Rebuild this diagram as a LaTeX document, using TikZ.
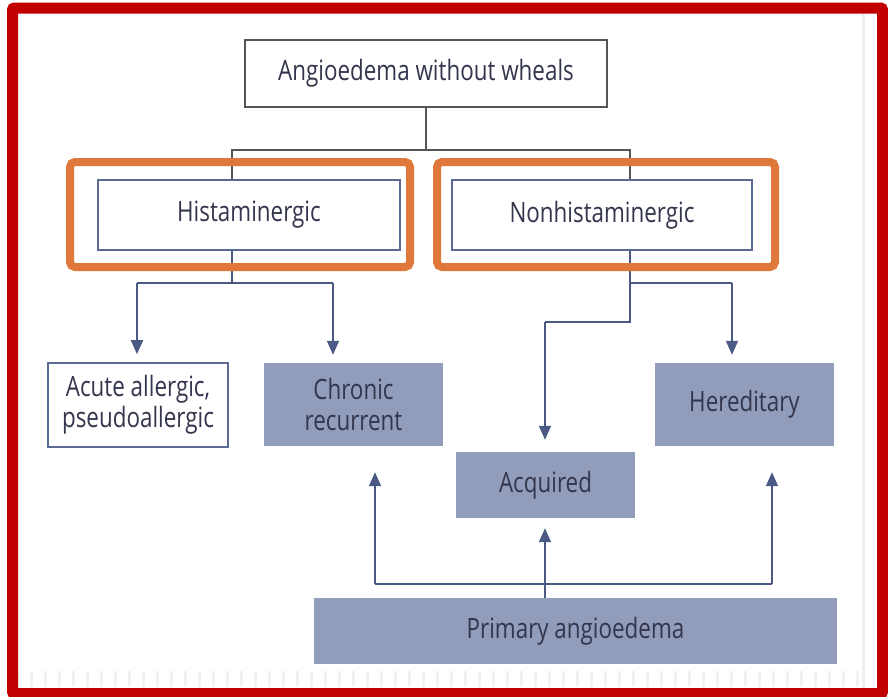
\documentclass[tikz,border=0pt]{standalone}
\usepackage{fontspec}
\setmainfont[FakeStretch=0.8]{Open Sans}
\usetikzlibrary{arrows.meta}
\definecolor{txt}{HTML}{33364D}
\definecolor{boxfill}{HTML}{919DBB}
\definecolor{boxline}{HTML}{5A6A95}
\definecolor{conn}{HTML}{4A5A85}
\definecolor{topline}{HTML}{555555}
\definecolor{hilite}{HTML}{E0783C}
\definecolor{frame}{HTML}{C00000}
\tikzset{
  lbl/.style={font=\fontsize{28}{31}\selectfont, text=txt, align=center, inner sep=0pt},
  openbox/.style={lbl, draw=boxline, line width=1.6pt, fill=white},
  topbox/.style={lbl, draw=topline, line width=1.6pt, fill=white},
  solidbox/.style={lbl, fill=boxfill},
  link/.style={draw=conn, line width=1.6pt},
  toplink/.style={draw=topline, line width=1.6pt},
  arr/.style={link, -{Triangle[width=12pt,length=14pt]}},
  hiliteframe/.style={draw=hilite, line width=8pt, rounded corners=5pt},
}
\begin{document}
\begin{tikzpicture}[x=1pt,y=-1pt]
\useasboundingbox (0,0) rectangle (888,696);
\fill[white] (0,0) rectangle (888,696);
% page edge details behind the chart
\draw[black!6, line width=3pt] (863,14) -- (863,688);
\draw[black!5, line width=16pt, dash pattern=on 3pt off 11pt] (16,679) -- (862,679);

% boxes
\node[topbox, minimum width=362pt, minimum height=67pt] (top) at (426,73.5) {Angioedema without wheals};
\node[openbox, minimum width=302pt, minimum height=70pt] (hist) at (249,215) {Histaminergic};
\node[openbox, minimum width=300pt, minimum height=70pt] (nonh) at (602,215) {Nonhistaminergic};
\node[openbox, minimum width=180pt, minimum height=84pt] (acute) at (138,405) {Acute allergic,\\pseudoallergic};
\node[solidbox, minimum width=179pt, minimum height=83pt] (chronic) at (353.5,404.5) {Chronic\\recurrent};
\node[solidbox, minimum width=179pt, minimum height=83pt] (hered) at (744.5,404.5) {Hereditary};
\node[solidbox, minimum width=179pt, minimum height=66pt] (acq) at (545.5,485) {Acquired};
\node[solidbox, minimum width=523pt, minimum height=66pt] (prim) at (575.5,631) {Primary angioedema};

% bend points
\coordinate (bl) at (232,150);
\coordinate (br) at (630,150);
\coordinate (h1) at (232,283);
\coordinate (h2) at (137,283);
\coordinate (h3) at (333,283);
\coordinate (n1) at (630,283);
\coordinate (n2) at (732,283);
\coordinate (n3) at (630,322);
\coordinate (n4) at (545,322);
\coordinate (p1) at (545,584);
\coordinate (pl) at (375,584);
\coordinate (pr) at (772,584);

% connectors from the top box
\draw[toplink] (top.south) -- (top.south |- bl);
\draw[toplink] (hist.north -| bl) |- (br) -- (nonh.north -| br);

% histaminergic branch
\draw[link] (hist.south -| h1) -- (h1);
\draw[link] (h2) -- (h3);
\draw[arr, shorten >=8pt] (h2) -- (acute.north -| h2);
\draw[arr, shorten >=8pt] (h3) -- (chronic.north -| h3);

% nonhistaminergic branch
\draw[link] (nonh.south -| n1) -- (n3) -- (n4);
\draw[link] (n1) -- (n2);
\draw[arr, shorten >=12pt] (n4) -- (acq.north -| n4);
\draw[arr, shorten >=8pt] (n2) -- (hered.north -| n2);

% primary angioedema
\draw[arr, shorten >=10pt] (prim.north -| p1) -- (acq.south -| p1);
\draw[link] (pl) -- (pr);
\draw[arr, shorten >=26pt] (pl) -- (chronic.south -| pl);
\draw[arr, shorten >=26pt] (pr) -- (hered.south -| pr);

% redraw boxes over the connector ends
\node[openbox, minimum width=302pt, minimum height=70pt] at (hist) {Histaminergic};
\node[openbox, minimum width=300pt, minimum height=70pt] at (nonh) {Nonhistaminergic};

% highlight frames
\draw[hiliteframe] (70,162) rectangle (410,267);
\draw[hiliteframe] (437,162) rectangle (775,267);

% outer frame
\draw[frame, line width=11pt, rounded corners=2pt] (12.5,8) rectangle (882.5,693.5);
\end{tikzpicture}
\end{document}
